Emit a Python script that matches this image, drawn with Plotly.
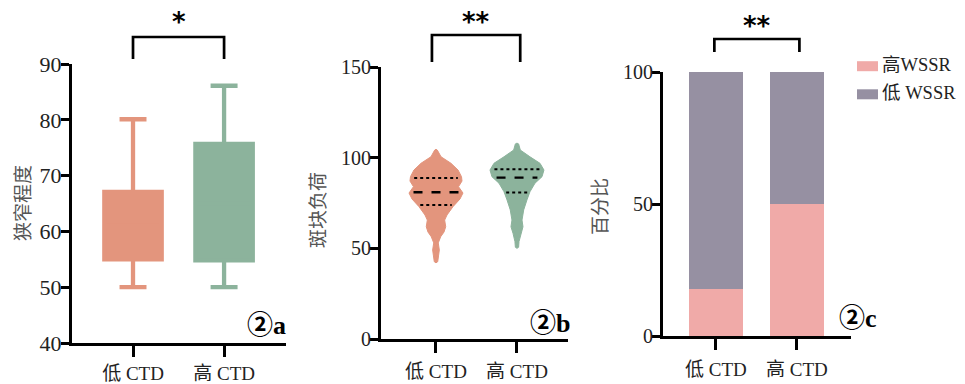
import numpy as np
import plotly.graph_objects as go

# page body has an 8px margin: figure is sized to fill the rest of the 965x384 window
OFF = 8
W, H = 965 - OFF, 384 - OFF

groups = ["低 CTD", "高 CTD"]
group_colors = ["#e3957d", "#8cb39c"]

# Panel a: 狭窄程度 box statistics
box_lower = [50.0, 50.0]
box_q1 = [55.0, 54.8]
box_median = [61.0, 65.0]
box_q3 = [67.1, 75.7]
box_upper = [80.1, 86.1]

# Panel b: 斑块负荷 violin outlines (value, half-width in category units)
vio_low_y = [42.0, 42.6, 45.8, 49.1, 53.0, 56.4, 59.0, 61.9, 65.6, 68.4, 73.0,
             77.2, 80.5, 84.0, 87.1, 89.5, 93.2, 96.9, 100.5, 104.2, 104.6]
vio_low_hw = [0.0, 0.021, 0.031, 0.041, 0.028, 0.058, 0.099, 0.12, 0.107, 0.136, 0.21,
              0.296, 0.333, 0.278, 0.321, 0.315, 0.272, 0.185, 0.062, 0.016, 0.0]
vio_high_y = [50.0, 50.6, 53.7, 58.3, 61.9, 65.6, 71.2, 76.7, 81.2, 85.9, 89.5,
              93.2, 96.9, 100.5, 104.2, 107.6, 108.0]
vio_high_hw = [0.0, 0.02, 0.025, 0.049, 0.074, 0.062, 0.083, 0.123, 0.16, 0.222, 0.309,
               0.333, 0.284, 0.16, 0.041, 0.02, 0.0]
vio_low_quart = [73.9, 80.9, 88.8]
vio_high_quart = [80.8, 89.0, 93.6]

# Panel c: 百分比 stacked bars
wssr_names = ["高WSSR", "低 WSSR"]
wssr_colors = ["#f0aaa8", "#9690a2"]
high_wssr = [17.7, 50.0]
low_wssr = [82.3, 50.0]

sig_labels = ["*", "**", "**"]
panel_tags = ["②a", "②b", "②c"]
y_titles = ["狭窄程度", "斑块负荷", "百分比"]

FONT = "Liberation Serif, Noto Sans CJK SC, serif"
xpos = [0, 1]


def PX(p):
    return (p - OFF) / W


def PY(p):
    return 1 - (p - OFF) / H


fig = go.Figure()

# --- panel a: boxes
for i in range(2):
    fig.add_trace(go.Box(
        x=[xpos[i]], q1=[box_q1[i]], median=[box_median[i]], q3=[box_q3[i]],
        lowerfence=[box_lower[i]], upperfence=[box_upper[i]],
        width=0.63, whiskerwidth=0.47, fillcolor=group_colors[i],
        line=dict(color=group_colors[i], width=4.3), boxpoints=False,
        name=groups[i], showlegend=False, xaxis="x", yaxis="y"))

# --- panel b: violins
vio = [(vio_low_y, vio_low_hw, vio_low_quart), (vio_high_y, vio_high_hw, vio_high_quart)]
for i, (vy, vhw, vq) in enumerate(vio):
    vy = np.array(vy); vhw = np.array(vhw)
    xs = np.concatenate([xpos[i] + vhw, (xpos[i] - vhw)[::-1]])
    ys = np.concatenate([vy, vy[::-1]])
    fig.add_trace(go.Scatter(x=xs, y=ys, fill="toself", fillcolor=group_colors[i],
                             line=dict(color=group_colors[i], width=1),
                             mode="lines", showlegend=False, name=groups[i],
                             xaxis="x2", yaxis="y2"))
    for k, q in enumerate(vq):
        hw = float(np.interp(q, vy, vhw)) * 0.85
        fig.add_trace(go.Scatter(x=[xpos[i] - hw, xpos[i] + hw], y=[q, q], mode="lines",
                                 line=dict(color="black", width=2.4 if k == 1 else 1.8,
                                           dash="dash" if k == 1 else "dot"),
                                 showlegend=False, hoverinfo="skip",
                                 xaxis="x2", yaxis="y2"))

# --- panel c: stacked bars
for vals, nm, col in [(high_wssr, wssr_names[0], wssr_colors[0]),
                      (low_wssr, wssr_names[1], wssr_colors[1])]:
    fig.add_trace(go.Bar(x=xpos, y=vals, name=nm, marker=dict(color=col, line=dict(width=0)),
                         width=0.667, showlegend=False, xaxis="x3", yaxis="y3"))

axis_common = dict(showline=True, linecolor="black", linewidth=3, ticks="outside",
                   tickwidth=3, tickcolor="black", showgrid=False, zeroline=False,
                   automargin=False)

panels = [
    dict(xd=[PX(72), PX(286)], yd=[PY(343), PY(64)], xr=[-0.67, 1.68], yr=[40, 90], dt=10,
         fs=22, xso=0),
    dict(xd=[PX(381), PX(568)], yd=[PY(339), PY(67)], xr=[-0.679, 1.63], yr=[0, 150], dt=50,
         fs=20, xso=2),
    dict(xd=[PX(663), PX(851)], yd=[PY(336), PY(72)], xr=[-0.654, 1.667], yr=[0, 100], dt=50,
         fs=20, xso=3),
]
layout = dict(width=W, height=H, margin=dict(l=0, r=0, t=0, b=0, autoexpand=False),
              paper_bgcolor="white", plot_bgcolor="white", barmode="stack",
              showlegend=False, font=dict(family=FONT))
for j, p in enumerate(panels):
    sx = "" if j == 0 else str(j + 1)
    layout["xaxis" + sx] = dict(axis_common, domain=p["xd"], range=p["xr"],
                                anchor="y" + sx, tickvals=xpos, ticktext=groups,
                                ticklen=11, ticklabelstandoff=p["xso"],
                                tickfont=dict(family=FONT, size=19, color="#222"))
    layout["yaxis" + sx] = dict(axis_common, domain=p["yd"], range=p["yr"],
                                anchor="x" + sx, dtick=p["dt"], ticklen=8,
                                ticklabelstandoff=-5,
                                tickfont=dict(family=FONT, size=p["fs"], color="#222"))
fig.update_layout(**layout)

# brackets and significance stars
brackets = [
    dict(xr="x", x0=0, x1=1, ytop=37, ybot=59, sy=18),
    dict(xr="x2", x0=-0.05, x1=1.04, ytop=35, ybot=62, sy=18),
    dict(xr="x3", x0=-0.02, x1=1.03, ytop=39, ybot=52, sy=22),
]
for j, b in enumerate(brackets):
    yt, yb = PY(b["ytop"]), PY(b["ybot"])
    fig.add_shape(type="path", xref=b["xr"], yref="paper",
                  path=f"M {b['x0']},{yb} L {b['x0']},{yt} L {b['x1']},{yt} L {b['x1']},{yb}",
                  line=dict(color="black", width=2.7))
    fig.add_annotation(x=(b["x0"] + b["x1"]) / 2, xref=b["xr"], y=PY(b["sy"] + 4),
                       yref="paper", text="<b>" + sig_labels[j] + "</b>", showarrow=False,
                       font=dict(family="DejaVu Sans", size=26, color="black"),
                       xanchor="center", yanchor="middle")

# y-axis titles
ytitle_pos = [(22, 203), (316, 210), (598, 207)]
for j, (tx, ty) in enumerate(ytitle_pos):
    fig.add_annotation(x=PX(tx), y=PY(ty), xref="paper", yref="paper",
                       text=y_titles[j], textangle=-90, showarrow=False,
                       xanchor="center", yanchor="middle", borderpad=0,
                       font=dict(family="Noto Sans CJK SC", size=19, color="#555"))

# panel tags
tag_pos = [(266, 325), (550, 323), (858, 318)]
for j, (tx, ty) in enumerate(tag_pos):
    fig.add_annotation(x=PX(tx), y=PY(ty), xref="paper", yref="paper",
                       text="<b>" + panel_tags[j] + "</b>", showarrow=False,
                       xanchor="center", yanchor="middle",
                       font=dict(family="Liberation Serif, Noto Sans CJK SC", size=26, color="black"))

# legend (manual)
leg_rows = [66.2, 94.3]
for k in range(2):
    cy = leg_rows[k]
    fig.add_shape(type="rect", xref="paper", yref="paper",
                  x0=PX(857), x1=PX(878), y0=PY(cy + 5), y1=PY(cy - 5),
                  fillcolor=wssr_colors[k], line=dict(width=0))
    fig.add_annotation(x=PX(881), y=PY(cy - 1), xref="paper", yref="paper",
                       text=wssr_names[k], showarrow=False, xanchor="left", yanchor="middle",
                       borderpad=0,
                       font=dict(family=FONT, size=18.5, color="#222"))

fig.write_html("out.html")
